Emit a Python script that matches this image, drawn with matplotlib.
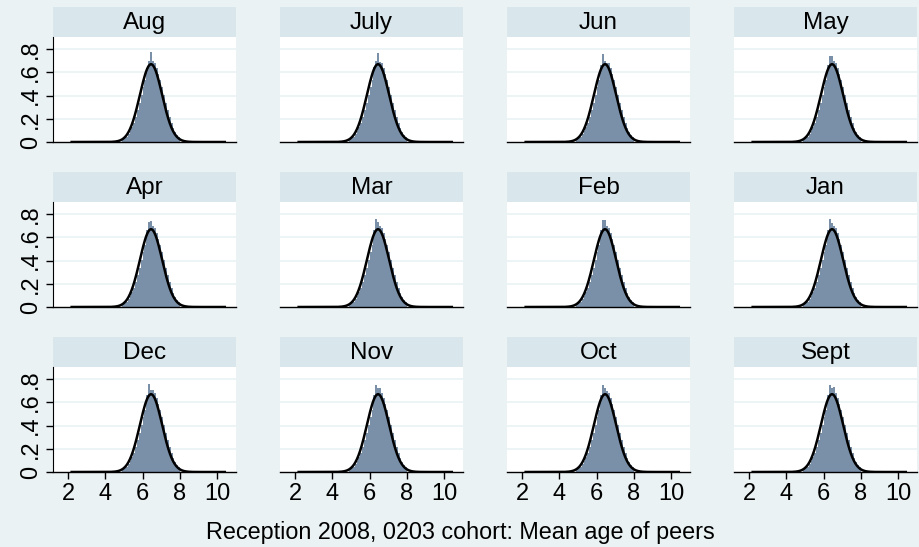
import numpy as np
import matplotlib.pyplot as plt

plt.rcParams['font.family'] = ['Liberation Sans', 'DejaVu Sans']

months = ["Aug", "July", "Jun", "May", "Apr", "Mar", "Feb", "Jan",
          "Dec", "Nov", "Oct", "Sept"]

# histogram bins (width 0.1), shared shape
bin_edges = np.round(np.arange(4.9, 8.05, 0.1), 2)
base_height = [0.022, 0.032, 0.046, 0.066, 0.092, 0.125, 0.167, 0.217, 0.274,
               0.338, 0.404, 0.470, 0.532, 0.586, 0.640, 0.680, 0.700, 0.680,
               0.640, 0.587, 0.533, 0.470, 0.403, 0.337, 0.273, 0.216, 0.166,
               0.124, 0.090, 0.064, 0.044]
# heights of the bins at 6.2, 6.3, 6.4, 6.5 where panels differ
peak_heights = {
    "Aug":  [0.64, 0.70, 0.78, 0.70],
    "July": [0.65, 0.70, 0.77, 0.69],
    "Jun":  [0.66, 0.76, 0.70, 0.68],
    "May":  [0.66, 0.74, 0.74, 0.70],
    "Apr":  [0.66, 0.73, 0.74, 0.70],
    "Mar":  [0.66, 0.76, 0.73, 0.70],
    "Feb":  [0.66, 0.75, 0.75, 0.70],
    "Jan":  [0.66, 0.76, 0.72, 0.70],
    "Dec":  [0.66, 0.76, 0.71, 0.71],
    "Nov":  [0.66, 0.75, 0.72, 0.72],
    "Oct":  [0.66, 0.75, 0.72, 0.70],
    "Sept": [0.66, 0.75, 0.72, 0.73],
}
peak_start = 13  # index of bin 6.2

# fitted normal overlay
mu, sd = 6.45, 0.595
curve_min, curve_max = 2.2, 10.4

xticks = [2, 4, 6, 8, 10]
yticks = [0, 0.2, 0.4, 0.6, 0.8]
ylabels = ["0", ".2", ".4", ".6", ".8"]
xlabel = "Reception 2008, 0203 cohort: Mean age of peers"

W, H = 920, 547
bg = "#eaf2f3"
strip_col = "#d9e6eb"
bar_col = "#7a90a8"

fig = plt.figure(figsize=(W / 100, H / 100), dpi=100, facecolor=bg)

col_x = [53, 280, 507, 734]
pw = 183
row_top = [7, 172, 337]
strip_h = 30
ph = 105

xs = np.linspace(curve_min, curve_max, 400)
ys = np.exp(-0.5 * ((xs - mu) / sd) ** 2) / (sd * np.sqrt(2 * np.pi))

for i, m in enumerate(months):
    r, c = divmod(i, 4)
    x0 = col_x[c]
    y_strip = row_top[r]
    # strip title
    sax = fig.add_axes([x0 / W, 1 - (y_strip + strip_h) / H, pw / W, strip_h / H])
    sax.set_facecolor(strip_col)
    sax.set_xticks([]); sax.set_yticks([])
    for s in sax.spines.values():
        s.set_visible(False)
    sax.text(0.5, 0.47, m, ha="center", va="center", fontsize=17.5)

    ax = fig.add_axes([x0 / W, 1 - (y_strip + strip_h + ph) / H, pw / W, ph / H])
    ax.set_facecolor("white")
    heights = list(base_height)
    heights[peak_start:peak_start + 4] = peak_heights[m]
    ax.stairs(heights, bin_edges, fill=True, color=bar_col, linewidth=0, zorder=2)
    ax.plot(xs, ys, color="black", lw=1.8, zorder=3)
    ax.set_xlim(1.2, 11.0)
    ax.set_ylim(0, 0.905)
    ax.set_yticks(yticks)
    for yv in yticks[1:]:
        ax.axhline(yv, color=bg, lw=1.2, zorder=1)
    for s in ["top", "right"]:
        ax.spines[s].set_visible(False)
    ax.spines["bottom"].set_linewidth(1.0)
    if c == 0:
        ax.set_yticklabels(ylabels, rotation=90, va="center", fontsize=17)
        ax.tick_params(axis="y", length=5, width=1.0, pad=3)
    else:
        ax.spines["left"].set_visible(False)
        ax.tick_params(axis="y", length=0, labelleft=False)
    ax.set_xticks(xticks)
    if r == 2:
        ax.set_xticklabels([str(t) for t in xticks], fontsize=17)
        ax.tick_params(axis="x", length=5, width=1.0, pad=3)
    else:
        ax.tick_params(axis="x", length=0, labelbottom=False)

fig.text(0.5, 1 - 533 / H, xlabel, ha="center", va="center", fontsize=16.8)

fig.savefig("out.png", dpi=100, facecolor=bg)
